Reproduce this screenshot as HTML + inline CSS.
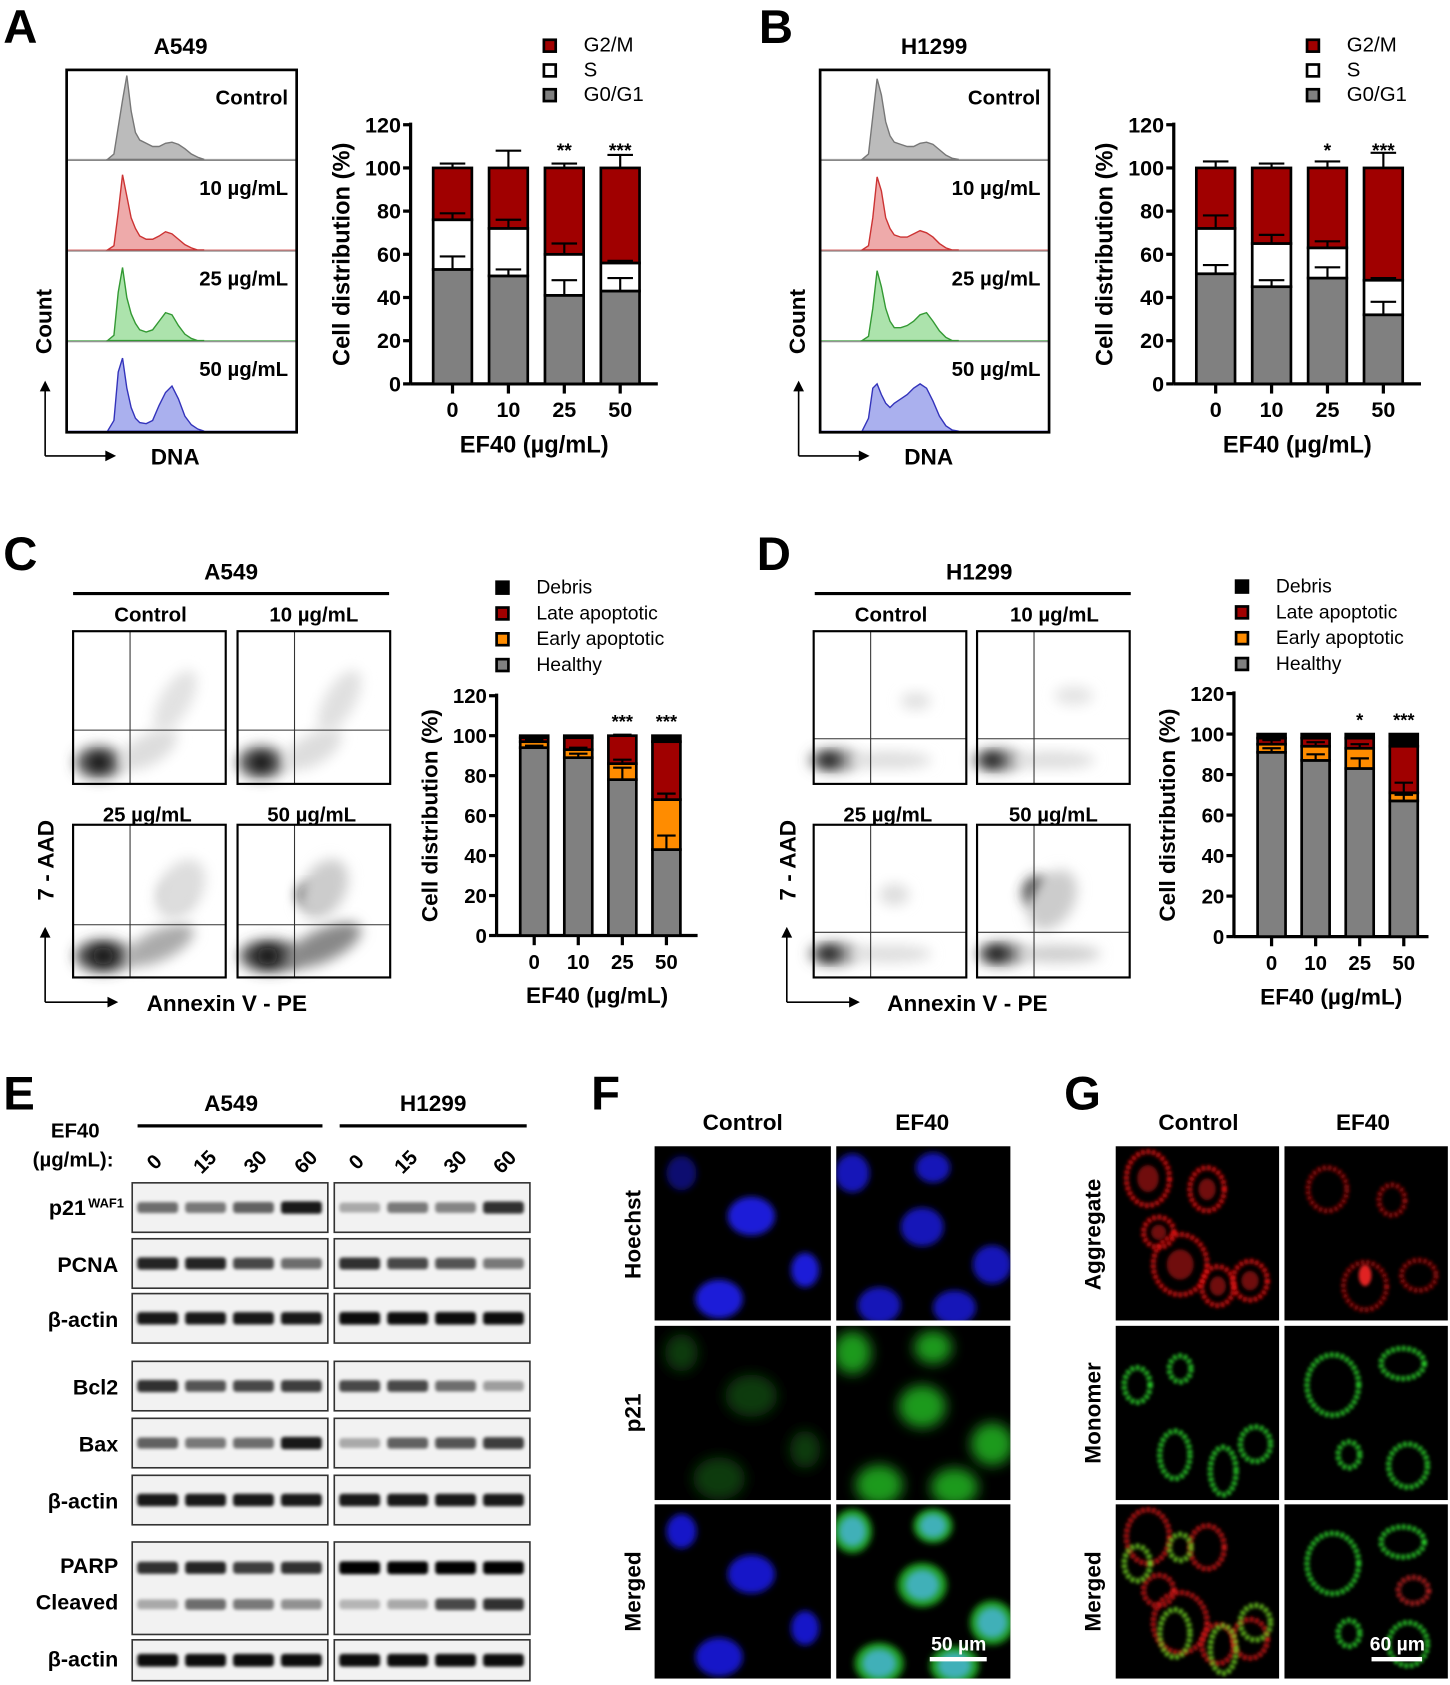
<!DOCTYPE html>
<html><head><meta charset="utf-8"><style>
html,body{margin:0;padding:0;background:#fff}
svg{display:block}
text{font-family:"Liberation Sans",Arial,sans-serif}
</style></head><body>
<svg id="fig" xmlns="http://www.w3.org/2000/svg" width="1450" height="1685" viewBox="0 0 1349 1567" preserveAspectRatio="none">
<defs>
<filter id="b1" x="-50%" y="-50%" width="200%" height="200%"><feGaussianBlur stdDeviation="1.5"/></filter>
<filter id="b3" x="-50%" y="-50%" width="200%" height="200%"><feGaussianBlur stdDeviation="3"/></filter>
<filter id="b6" x="-50%" y="-50%" width="200%" height="200%"><feGaussianBlur stdDeviation="6"/></filter>
<filter id="b9" x="-50%" y="-50%" width="200%" height="200%"><feGaussianBlur stdDeviation="9"/></filter>
</defs>
<g font-weight="bold" font-size="44">
<text x="3" y="40">A</text>
<text x="706" y="40">B</text>
<text x="3" y="530">C</text>
<text x="704" y="530">D</text>
<text x="3" y="1032">E</text>
<text x="550" y="1032">F</text>
<text x="990" y="1032">G</text>
</g>
<g font-weight="bold" font-size="21" text-anchor="middle">
<text x="168" y="50">A549</text>
<text x="869" y="50">H1299</text>
<text x="215" y="539">A549</text>
<text x="911" y="539">H1299</text>
<text x="215" y="1033">A549</text>
<text x="403" y="1033">H1299</text>
</g>
<g id="root"></g>
</svg>
<script>
// ---------- data ----------
const catsAB=['0','10','25','50'];
const aG1=[53,50,41,43], aS=[23,22,19,13], aG2=[24,28,40,44];
const aErrG1=[6,3,7,6], aErrS=[3,4,5,1], aErrT=[2,8,2,6];
const aStars=['','','**','***'];
const bG1=[51,45,49,32], bS=[21,20,14,16], bG2=[28,35,37,52];
const bErrG1=[4,3,5,6], bErrS=[6,4,3,1], bErrT=[3,2,3,7];
const bStars=['','','*','***'];
const cHealthy=[94,89,78,43], cEarly=[3,4,8,25], cLate=[2,6,14,29], cDebris=[1,1,0,3];
const cErrH=[1,2,6,7], cErrE=[1,1,2,3], cErrT=[0.5,0.5,0.5,0.5];
const cStars=['','','***','***'];
const dHealthy=[91,87,83,67], dEarly=[4,7,10,4], dLate=[3,4,5,23], dDebris=[2,2,2,6];
const dErrH=[2,3,5,3], dErrE=[2,2,2,5], dErrT=[0.5,0.5,1,1];
const dStars=['','','*','***'];
const yTicks=[0,20,40,60,80,100,120];
// histogram samples (channels) and counts
const histCh=[100,106,110,114,118,122,126,130,136,142,148,154,160,166,172,178,184,190];
const histA=[[0,5,30,55,78,45,25,18,15,12,12,15,16,14,10,5,2,0],[0,4,35,70,50,30,20,13,10,10,13,17,15,10,5,2,0,0],[0,5,45,68,40,25,16,10,8,10,18,26,24,14,6,2,0,0],[0,10,55,68,40,22,12,8,7,10,24,36,42,30,14,6,2,0]];
const histB=[[0,5,40,75,60,35,22,16,14,12,12,15,16,14,9,4,1,0],[0,4,30,68,55,30,20,14,12,12,15,18,16,12,6,2,0,0],[0,4,30,65,50,30,18,12,12,14,18,24,26,18,9,3,0,0],[0,12,40,44,34,26,22,26,30,34,40,44,40,28,14,5,1,0]];
// western blot band intensities (4 lanes)
const blotA={p21:[.55,.5,.6,.9],pcna:[.85,.85,.7,.55],act1:[.9,.9,.9,.9],bcl2:[.8,.65,.7,.75],bax:[.6,.5,.55,.9],act2:[.9,.9,.9,.9],parp:[.8,.85,.75,.8],clv:[.3,.55,.5,.4],act3:[.95,.95,.95,.95]};
const blotB={p21:[.3,.5,.45,.8],pcna:[.8,.7,.65,.5],act1:[.95,.95,.95,.95],bcl2:[.7,.7,.55,.35],bax:[.3,.6,.65,.75],act2:[.9,.9,.9,.9],parp:[1,1,1,1],clv:[.25,.3,.7,.8],act3:[.95,.95,.95,.95]};

// ---------- helpers ----------
const NS='http://www.w3.org/2000/svg';
const root=document.getElementById('root');
function mk(tag,attrs,parent){const e=document.createElementNS(NS,tag);for(const k in attrs)e.setAttribute(k,attrs[k]);(parent||root).appendChild(e);return e;}
function tx(x,y,s,attrs,parent){const e=mk('text',Object.assign({x:x,y:y},attrs||{}),parent);e.textContent=s;return e;}

function stackChart(o){
  const g=mk('g',{});
  
  
  const ys=v=>o.y0-v*(o.y0-o.y120)/120;
  const xs=i=>o.x1+i*o.step;
  // y axis
  const ax=mk('line',{x1:o.ax,y1:o.y120-2,x2:o.ax,y2:o.y0,stroke:'#000','stroke-width':3},g);
  
  
  const xa=mk('line',{x1:o.ax,y1:o.y0,x2:o.axEnd,y2:o.y0,stroke:'#000','stroke-width':3},g);
  
  
  yTicks.forEach(t=>{
    mk('line',{x1:o.ax-7,y1:ys(t),x2:o.ax,y2:ys(t),stroke:'#000','stroke-width':3},g);
    const l=tx(o.ax-9,ys(t)+7,String(t),{'font-size':o.fs,'font-weight':'bold','text-anchor':'end'},g);
    
    
  });
  o.cats.forEach((c,i)=>{
    mk('line',{x1:xs(i),y1:o.y0,x2:xs(i),y2:o.y0+9,stroke:'#000','stroke-width':3},g);
    const l=tx(xs(i),o.y0+31,c,{'font-size':o.fs,'font-weight':'bold','text-anchor':'middle'},g);
    
    
  });
  o.cats.forEach((c,i)=>{
    let cum=0;
    const tops=[];
    o.series.forEach((s,k)=>{
      const v=s[i];
      const r=mk('rect',{x:xs(i)-o.bw/2,y:ys(cum+v),width:o.bw,height:Math.max(0,ys(cum)-ys(cum+v)),fill:o.colors[k],stroke:'#000','stroke-width':o.sw},g);
      
      
      cum+=v;tops.push(cum);
    });
    o.errs.forEach((e,k)=>{
      const top=ys(tops[k]), hi=ys(tops[k]+e[i]);
      const eb=mk('path',{d:`M${xs(i)},${top}V${hi}M${xs(i)-o.bw*0.33},${hi}H${xs(i)+o.bw*0.33}`,stroke:'#000','stroke-width':2,fill:'none'},g);
      
      
    });
    if(o.stars[i]){
      const st=tx(xs(i),ys(o.starV)+6,o.stars[i],{'font-size':o.fs-2,'font-weight':'bold','text-anchor':'middle'},g);
      
      
    }
  });
  const yt=tx(0,0,'Cell distribution (%)',{'font-size':o.fs+2,'font-weight':'bold','text-anchor':'middle',transform:`translate(${o.ytX},${(o.y0+o.y120)/2}) rotate(-90)`},g);
  
  
  const xt=tx((o.ax+o.axEnd)/2,o.y0+o.xtDy,'EF40 (µg/mL)',{'font-size':o.fs+2,'font-weight':'bold','text-anchor':'middle'},g);
  
  
  o.legend.forEach((L,k)=>{
    const ly=o.legY+k*o.legDy;
    const sq=mk('rect',{x:o.legX,y:ly-11,width:11,height:11,fill:L[1],stroke:'#000','stroke-width':2.5},g);
    
    
    const lt=tx(o.legX+o.legTx,ly,L[0],{'font-size':o.legFs},g);
    
    
  });
}

function histPanel(x0,y0,w,h,data,cols,labels,name,dx){
  const g=mk('g',{});
  
  
  const sh=h/4;
  data.forEach((d,k)=>{
    const base=y0+sh*(k+1)-1;
    let p=`M${histCh[0]+dx},${base}`;
    histCh.forEach((c,i)=>{p+=`L${c+dx},${base-d[i]}`;});
    p+=`L${histCh[histCh.length-1]+dx},${base}Z`;
    const hp=mk('path',{d:p,fill:cols[k][1],stroke:cols[k][0],'stroke-width':1.3},g);
    
    
    mk('line',{x1:x0,y1:base,x2:x0+w,y2:base,stroke:cols[k][0],'stroke-width':1,opacity:0.7},g);
    if(k<3) mk('line',{x1:x0,y1:y0+sh*(k+1),x2:x0+w,y2:y0+sh*(k+1),stroke:'#888','stroke-width':1},g);
    const l=tx(x0+w-8,y0+sh*k+32,labels[k],{'font-size':19,'font-weight':'bold','text-anchor':'end'},g);
    
    
  });
  const bx=mk('rect',{x:x0,y:y0,width:w,height:h,fill:'none',stroke:'#000','stroke-width':2.5},g);
  
  
  // axis arrows
  const ar=mk('path',{d:`M${x0-20},${y0+h+22}V${y0+h-42}M${x0-20},${y0+h+22}H${x0+38}`,stroke:'#000','stroke-width':1.5,fill:'none'},g);
  
  
  mk('path',{d:`M${x0-25},${y0+h-38}L${x0-20},${y0+h-48}L${x0-15},${y0+h-38}Z M${x0+36},${y0+h+17}L${x0+46},${y0+h+22}L${x0+36},${y0+h+27}Z`,fill:'#000'},g);
  const c=tx(0,0,'Count',{'font-size':21,'font-weight':'bold','text-anchor':'middle',transform:`translate(${x0-14},${y0+h-103}) rotate(-90)`},g);
  
  
  const dn=tx(x0+101,y0+h+30,'DNA',{'font-size':21,'font-weight':'bold','text-anchor':'middle'},g);
  
  
}
const histCols=[['#777','#bbb'],['#c33','#eaa'],['#393','#ace3ac'],['#33b','#aab0ee']];
const doseLabels=['Control','10 µg/mL','25 µg/mL','50 µg/mL'];
histPanel(62,65,214,337,histA,histCols,doseLabels,'cell-cycle-histograms-a549',0);
histPanel(763,65,213,337,histB,histCols,doseLabels,'cell-cycle-histograms-h1299',702);

const abLegend=[['G2/M','#a00000'],['S','#fff'],['G0/G1','#808080']];
stackChart({name:'cell-cycle-chart-a549',cats:catsAB,series:[aG1,aS,aG2],errs:[aErrG1,aErrS,aErrT],stars:aStars,starV:108,snames:['g0g1','s','g2m'],colors:['#808080','#fff','#a00000'],ax:382,axEnd:612,y0:357,y120:116,x1:421,step:52,bw:36,sw:2.5,fs:20,ytX:325,xtDy:64,legend:abLegend,legX:506,legY:48,legDy:23,legTx:37,legFs:19});
stackChart({name:'cell-cycle-chart-h1299',cats:catsAB,series:[bG1,bS,bG2],errs:[bErrG1,bErrS,bErrT],stars:bStars,starV:108,snames:['g0g1','s','g2m'],colors:['#808080','#fff','#a00000'],ax:1092,axEnd:1322,y0:357,y120:116,x1:1131,step:52,bw:36,sw:2.5,fs:20,ytX:1035,xtDy:64,legend:abLegend,legX:1216,legY:48,legDy:23,legTx:37,legFs:19});
const cdLegend=[['Debris','#000'],['Late apoptotic','#a00000'],['Early apoptotic','#ff8c00'],['Healthy','#808080']];
stackChart({name:'apoptosis-chart-a549',cats:catsAB,series:[cHealthy,cEarly,cLate,cDebris],errs:[cErrH,cErrE,cErrT],stars:cStars,starV:107,snames:['healthy','early','late','debris'],colors:['#808080','#ff8c00','#a00000','#000'],ax:462,axEnd:649,y0:870,y120:647,x1:497,step:41,bw:26,sw:2.5,fs:19,ytX:407,xtDy:63,legend:cdLegend,legX:462,legY:552,legDy:24,legTx:37,legFs:18});
stackChart({name:'apoptosis-chart-h1299',cats:catsAB,series:[dHealthy,dEarly,dLate,dDebris],errs:[dErrH,dErrE,dErrT],stars:dStars,starV:107,snames:['healthy','early','late','debris'],colors:['#808080','#ff8c00','#a00000','#000'],ax:1148,axEnd:1329,y0:871,y120:645,x1:1183,step:41,bw:26,sw:2.5,fs:19,ytX:1093,xtDy:63,legend:cdLegend,legX:1150,legY:551,legDy:24,legTx:37,legFs:18});

// ---------- flow plots ----------
function flowPlot(x,y,hline,blobs,name){
  const g=mk('g',{});
  
  
  mk('rect',{x:x,y:y,width:142,height:142,fill:'#fff'},g);
  blobs.forEach(b=>{
    const e=mk('ellipse',{cx:x+b[0],cy:y+b[1],rx:b[2],ry:b[3],fill:b[4],transform:`rotate(${b[5]||0} ${x+b[0]} ${y+b[1]})`,filter:'url(#b6)'},g);
    
    
  });
  mk('line',{x1:x+53,y1:y,x2:x+53,y2:y+142,stroke:'#333','stroke-width':1},g);
  mk('line',{x1:x,y1:y+hline,x2:x+142,y2:y+hline,stroke:'#333','stroke-width':1},g);
  const f=mk('rect',{x:x,y:y,width:142,height:142,fill:'none',stroke:'#000','stroke-width':2},g);
  
  
}
const gA=[[30,125,22,14,'#444'],[28,125,9,7,'#000'],[70,120,30,12,'#ccc',-20],[95,70,14,30,'#ddd',30]];
flowPlot(68,587,92,[[24,122,22,15,'#555'],[24,122,8,7,'#000'],[70,110,30,14,'#ddd',-30],[95,65,14,32,'#e2e2e2',30]],'flow-control-a549');
flowPlot(221,587,92,[[22,122,22,15,'#555'],[22,122,8,7,'#000'],[70,110,30,14,'#ddd',-30],[95,65,14,32,'#e0e0e0',30]],'flow-10-a549');
flowPlot(68,767,93,[[28,122,26,15,'#444'],[28,122,10,8,'#111'],[80,112,35,14,'#aaa',-25],[95,65,14,12,'#bbb'],[100,60,20,30,'#ddd',30]],'flow-25-a549');
flowPlot(221,767,93,[[30,122,28,15,'#444'],[28,122,10,8,'#111'],[80,112,38,15,'#888',-25],[68,65,12,9,'#111'],[80,60,20,30,'#ccc',30]],'flow-50-a549');
flowPlot(757,587,100,[[18,120,22,10,'#666'],[14,120,7,6,'#000'],[70,120,40,8,'#ddd'],[95,65,14,8,'#e0e0e0']],'flow-control-h1299');
flowPlot(909,587,100,[[18,120,22,10,'#666'],[14,120,7,6,'#000'],[70,120,40,8,'#ddd'],[90,60,18,9,'#e4e4e4']],'flow-10-h1299');
flowPlot(757,767,100,[[18,120,22,10,'#666'],[14,120,7,6,'#000'],[70,120,40,8,'#ddd'],[75,65,14,10,'#ddd']],'flow-25-h1299');
flowPlot(909,767,100,[[22,120,22,10,'#555'],[18,120,7,6,'#000'],[75,120,40,8,'#ccc'],[55,62,12,14,'#333',20],[70,70,20,30,'#ccc',30]],'flow-50-h1299');
[[68,362,'a549'],[758,1052,'h1299']].forEach(p=>{
  const l=mk('line',{x1:p[0],y1:552,x2:p[1],y2:552,stroke:'#000','stroke-width':3});
  
  
});
[[140,571,'Control'],[292,571,'10 µg/mL'],[137,757,'25 µg/mL'],[290,757,'50 µg/mL'],[829,571,'Control'],[981,571,'10 µg/mL'],[826,757,'25 µg/mL'],[980,757,'50 µg/mL']].forEach(t=>{
  const l=tx(t[0],t[1]+7,t[2],{'font-size':19,'font-weight':'bold','text-anchor':'middle'});
  
  
});
[[42,'7-AAD-c',211],[732,'7-AAD-d',900]].forEach(p=>{
  const x0=p[0];
  const ar=mk('path',{d:`M${x0},${932}V${870}M${x0},${932}H${x0+60}`,stroke:'#000','stroke-width':1.5,fill:'none'});
  
  
  mk('path',{d:`M${x0-5},${872}L${x0},${862}L${x0+5},${872}Z M${x0+58},${927}L${x0+68},${932}L${x0+58},${937}Z`,fill:'#000'});
  const a=tx(0,0,'7 - AAD',{'font-size':21,'font-weight':'bold','text-anchor':'middle',transform:`translate(${x0+8},${800}) rotate(-90)`});
  
  
  const b=tx(p[2],940,'Annexin V - PE',{'font-size':21,'font-weight':'bold','text-anchor':'middle'});
  
  
});

// ---------- western blots ----------
tx(70,1058,'EF40',{'font-size':19,'font-weight':'bold','text-anchor':'middle'});
tx(68,1085,'(µg/mL):',{'font-size':19,'font-weight':'bold','text-anchor':'middle'});
[[128,300],[316,490]].forEach(p=>{const l=mk('line',{x1:p[0],y1:1047,x2:p[1],y2:1047,stroke:'#000','stroke-width':3});});
const laneLbl=['0','15','30','60'];
[[148,47],[336,46]].forEach(p=>{laneLbl.forEach((s,i)=>{
  const x=p[0]+i*p[1];
  const l=tx(0,0,s,{'font-size':19,'font-weight':'bold','text-anchor':'middle',transform:`translate(${x},${1085}) rotate(-45)`});
  
  
});});
const rows=[['p21',1100,46],['pcna',1152,46],['act1',1203,46],['bcl2',1266,46],['bax',1319,46],['act2',1372,46],['parp',1434,86],['act3',1525,38]];
const rowLbl={pcna:'PCNA',act1:'β-actin',bcl2:'Bcl2',bax:'Bax',act2:'β-actin',act3:'β-actin'};
function blot(x0,w,data,name){
  rows.forEach(r=>{
    const g=mk('g',{});
    
    
    mk('rect',{x:x0,y:r[1],width:w,height:r[2],fill:'#f2f2f2',stroke:'#333','stroke-width':1.5},g);
    const lanes=r[0]==='parp'?[['parp',24],['clv',58]]:[[r[0],r[2]/2]];
    lanes.forEach(L=>{
      data[L[0]].forEach((v,i)=>{
        const cx=x0+w*(0.13+i*0.245);
        const b=mk('rect',{x:cx-19,y:r[1]+L[1]-4-v*2,width:38,height:8+v*4,rx:3,fill:'#000','fill-opacity':v,filter:'url(#b1)'},g);
        
        
      });
    });
  });
}
blot(123,182,blotA,'blot-a549');
blot(311,182,blotB,'blot-h1299');
[['p21',1130],['PCNA',1183],['β-actin',1234],['Bcl2',1297],['Bax',1350],['β-actin',1403],['PARP',1463],['Cleaved',1497],['β-actin',1550]].forEach(t=>{
  const l=tx(110,t[1],t[0],{'font-size':20,'font-weight':'bold','text-anchor':'end'});
  
  
  if(t[0]==='p21'){l.setAttribute('x',80);const s=tx(82,1123,'WAF1',{'font-size':12,'font-weight':'bold'});}
});

// ---------- microscopy ----------
function micro(x,y,w,h,items,name,blur){
  const g=mk('g',{});
  
  
  mk('rect',{x:x,y:y,width:w,height:h,fill:'#000'},g);
  const cp=mk('clipPath',{id:'c'+name},g);
  mk('rect',{x:x,y:y,width:w,height:h},cp);
  const inner=mk('g',{'clip-path':`url(#c${name})`},g);
  items.forEach(it=>{
    const e=mk('ellipse',{cx:x+it[0],cy:y+it[1],rx:it[2],ry:it[3],fill:it[4]==='ring'?'none':it[4],stroke:it[4]==='ring'?it[5]:'none','stroke-width':it[4]==='ring'?5:0,'stroke-dasharray':it[4]==='ring'?'3 2':'none',filter:`url(#${it[6]||blur})`},inner);
    
    
  });
}
const fCtrl=[[25,25,14,16],[90,65,22,18],[140,115,13,16],[60,142,22,18]];
const fEf=[[15,25,16,18],[80,75,20,18],[145,110,18,18],[40,148,20,17],[110,150,20,16],[90,20,16,14]];
const mk2=(a,c,s)=>a.map(p=>[p[0],p[1],p[2]*s,p[3]*s,c]);
micro(609,1066,164,162,mk2(fCtrl,'#1a1ad8',1).map((p,i)=>i==0?[p[0],p[1],p[2],p[3],'#0a0a70']:p),'hoechst-control','b3');
micro(778,1066,162,162,mk2(fEf,'#1515b8',1),'hoechst-ef40','b3');
micro(609,1233,164,162,mk2(fCtrl,'#0b3a0b',1.1),'p21-control','b6');
micro(778,1233,162,162,mk2(fEf,'#1f9a1f',1.1),'p21-ef40','b6');
micro(609,1399,164,162,mk2(fCtrl,'#1818c8',1),'merged-control-f','b3');
micro(778,1399,162,162,mk2(fEf,'#1f9a1f',1.15).concat(mk2(fEf,'#40b0b8',0.8)),'merged-ef40-f','b3');
const gC=[[30,30,20,25],[85,40,16,20],[60,110,25,28],[95,130,15,18],[125,125,16,18],[40,80,14,14]];
const gE=[[40,40,18,20],[100,50,12,14],[75,130,20,22],[125,120,16,14]];
const rings=(a,c)=>a.map(p=>[p[0],p[1],p[2],p[3],'ring',c,'b1']);
micro(1038,1066,152,162,rings(gC,'#e01010').concat(gC.map(p=>[p[0],p[1],p[2]*0.5,p[3]*0.5,'#701010','b3'])),'aggregate-control','b1');
micro(1195,1066,152,162,rings(gE,'#a00808').concat([[75,120,6,10,'#e02020','b1']]),'aggregate-ef40','b1');
const mC=[[20,55,12,16],[60,40,10,12],[55,120,14,22],[100,135,12,22],[130,110,14,16]];
const mE=[[45,55,24,28],[110,35,20,14],[60,120,10,12],[115,130,18,20]];
micro(1038,1233,152,162,rings(mC,'#2ad02a'),'monomer-control','b1');
micro(1195,1233,152,162,rings(mE,'#2ad02a'),'monomer-ef40','b1');
micro(1038,1399,152,162,rings(gC,'#d01818').concat(rings(mC,'#70d020')),'merged-control-g','b1');
micro(1195,1399,152,162,rings(mE,'#2ad02a').concat(rings([[120,80,14,12]],'#c02020')),'merged-ef40-g','b1');
[[691,'Control'],[858,'EF40'],[1115,'Control'],[1268,'EF40']].forEach(t=>{
  const l=tx(t[0],1051,t[1],{'font-size':21,'font-weight':'bold','text-anchor':'middle'});
  
  
});
[[596,1148,'Hoechst'],[596,1314,'p21'],[596,1480,'Merged'],[1024,1148,'Aggregate'],[1024,1314,'Monomer'],[1024,1480,'Merged']].forEach(t=>{
  const l=tx(0,0,t[2],{'font-size':21,'font-weight':'bold','text-anchor':'middle',transform:`translate(${t[0]},${t[1]}) rotate(-90)`});
  
  
});
[[892,865,918,'50 µm'],[1300,1276,1323,'60 µm']].forEach(s=>{
  const l=tx(s[0],1535,s[3],{'font-size':18,'font-weight':'bold','text-anchor':'middle',fill:'#fff'});
  
  
  const b=mk('line',{x1:s[1],y1:1543,x2:s[2],y2:1543,stroke:'#fff','stroke-width':4});
  
  
});
</script>
</body></html>
